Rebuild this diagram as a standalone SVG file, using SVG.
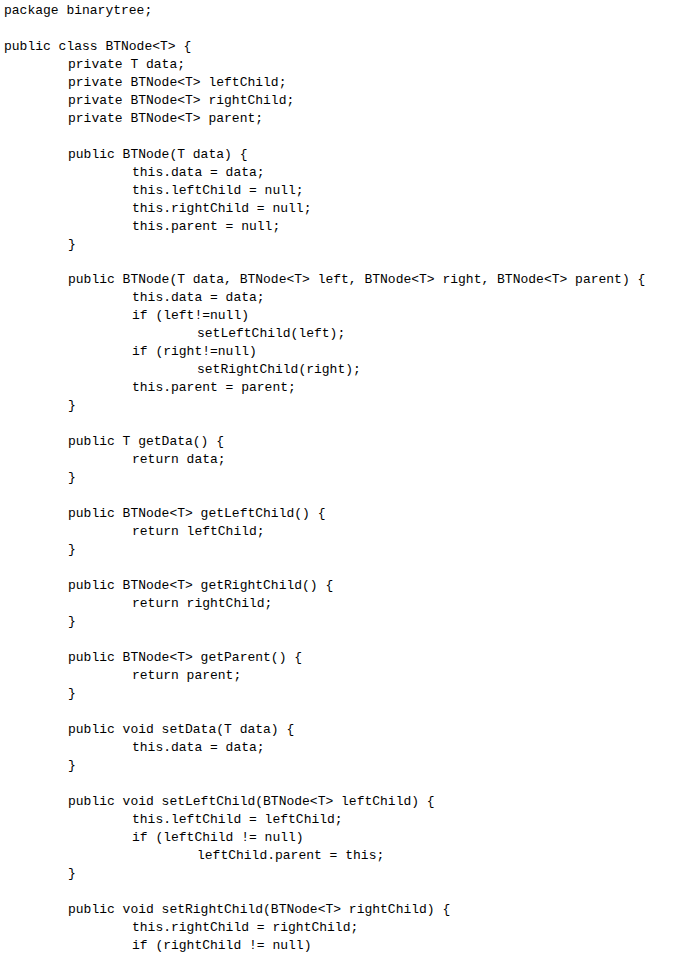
<svg xmlns="http://www.w3.org/2000/svg" width="676" height="957" viewBox="0 0 676 957">
<style>text{font-family:"Liberation Mono","DejaVu Sans Mono",monospace;font-size:13px;fill:#000;white-space:pre}</style>
<rect width="676" height="957" fill="#fff"/>
<g id="code">
<text x="4" y="14">package binarytree;</text>
<text x="4" y="50">public class BTNode&lt;T&gt; {</text>
<text x="68" y="68">private T data;</text>
<text x="68" y="86">private BTNode&lt;T&gt; leftChild;</text>
<text x="68" y="104">private BTNode&lt;T&gt; rightChild;</text>
<text x="68" y="122">private BTNode&lt;T&gt; parent;</text>
<text x="68" y="158">public BTNode(T data) {</text>
<text x="132" y="176">this.data = data;</text>
<text x="132" y="194">this.leftChild = null;</text>
<text x="132" y="212">this.rightChild = null;</text>
<text x="132" y="230">this.parent = null;</text>
<text x="68" y="248">}</text>
<text x="68" y="283">public BTNode(T data, BTNode&lt;T&gt; left, BTNode&lt;T&gt; right, BTNode&lt;T&gt; parent) {</text>
<text x="132" y="301">this.data = data;</text>
<text x="132" y="319">if (left!=null)</text>
<text x="197" y="337">setLeftChild(left);</text>
<text x="132" y="355">if (right!=null)</text>
<text x="197" y="373">setRightChild(right);</text>
<text x="132" y="391">this.parent = parent;</text>
<text x="68" y="409">}</text>
<text x="68" y="445">public T getData() {</text>
<text x="132" y="463">return data;</text>
<text x="68" y="481">}</text>
<text x="68" y="517">public BTNode&lt;T&gt; getLeftChild() {</text>
<text x="132" y="535">return leftChild;</text>
<text x="68" y="553">}</text>
<text x="68" y="589">public BTNode&lt;T&gt; getRightChild() {</text>
<text x="132" y="607">return rightChild;</text>
<text x="68" y="625">}</text>
<text x="68" y="661">public BTNode&lt;T&gt; getParent() {</text>
<text x="132" y="679">return parent;</text>
<text x="68" y="697">}</text>
<text x="68" y="733">public void setData(T data) {</text>
<text x="132" y="751">this.data = data;</text>
<text x="68" y="769">}</text>
<text x="68" y="805">public void setLeftChild(BTNode&lt;T&gt; leftChild) {</text>
<text x="132" y="823">this.leftChild = leftChild;</text>
<text x="132" y="841">if (leftChild != null)</text>
<text x="197" y="859">leftChild.parent = this;</text>
<text x="68" y="877">}</text>
<text x="68" y="913">public void setRightChild(BTNode&lt;T&gt; rightChild) {</text>
<text x="132" y="931">this.rightChild = rightChild;</text>
<text x="132" y="949">if (rightChild != null)</text>
</g>
</svg>
